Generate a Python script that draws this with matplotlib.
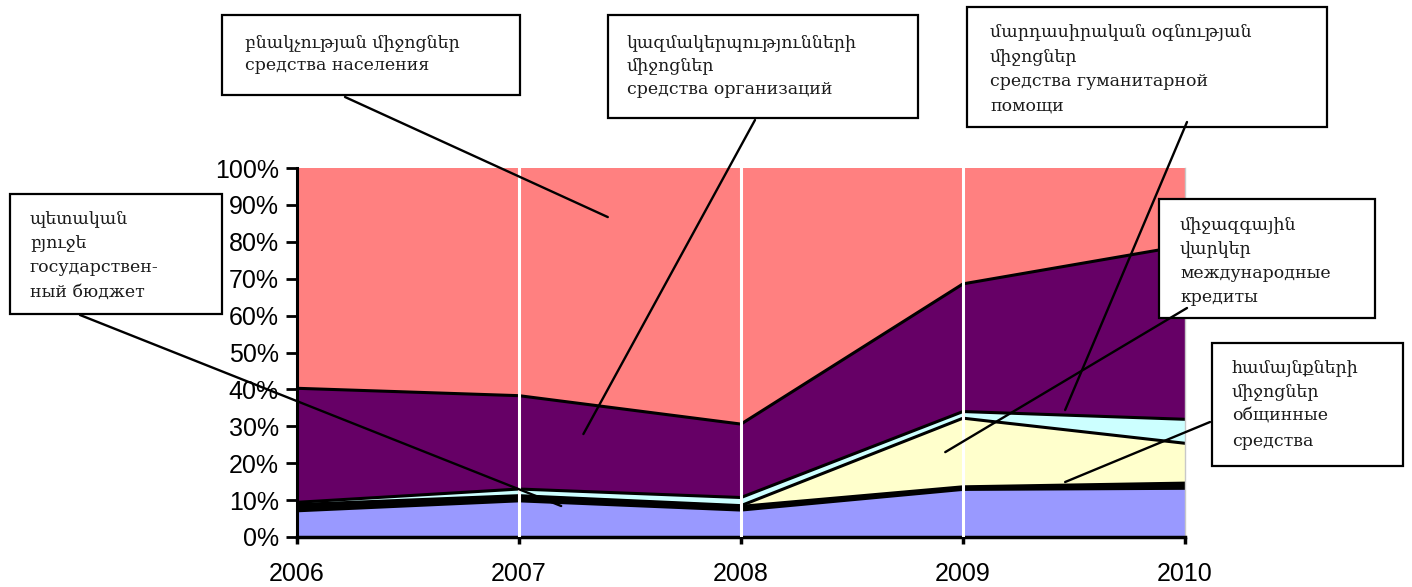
import matplotlib
matplotlib.use("Agg")
import matplotlib.pyplot as plt
import numpy as np
from matplotlib.patches import Rectangle, ConnectionPatch

# data (shares, %)
years = [2006, 2007, 2008, 2009, 2010]
budget = [7.1, 9.8, 7.3, 12.9, 13.2]
communal = [1.4, 1.2, 1.0, 0.7, 1.4]
credits = [0.3, 0.2, 0.2, 18.6, 10.8]
humanitarian = [0.6, 1.8, 2.2, 1.8, 6.5]
organizations = [30.9, 25.3, 19.9, 34.6, 47.1]
population = [100 - sum(v) for v in zip(budget, communal, credits, humanitarian, organizations)]

series = [budget, communal, credits, humanitarian, organizations, population]
colors = ["#9999FF", "#000000", "#FFFFCC", "#CCFFFF", "#660066", "#FF8080"]

W, H = 1412, 587
fig = plt.figure(figsize=(W / 100, H / 100), dpi=100)
fig.patch.set_facecolor("white")

def fx(x):
    return x / W

def fy(y):
    return 1 - y / H

ax = fig.add_axes([fx(297), fy(537), fx(1185) - fx(297), fy(168) - fy(537)])

x = np.array(years)
bottom = np.zeros(len(years))
for vals, c in zip(series, colors):
    top = bottom + np.array(vals)
    ax.fill_between(x, bottom, top, facecolor=c, edgecolor="none", zorder=1)
    if c != "#FF8080":
        ax.plot(x, top, color="black", lw=2.2, zorder=2, solid_joinstyle="miter")
    bottom = top

for yr in years[1:-1]:
    ax.axvline(yr, color="white", lw=2.2, zorder=3)

ax.set_xlim(2006, 2010)
ax.set_ylim(0, 100)
ax.set_xticks(years)
ax.set_xticklabels([str(y) for y in years])
ax.set_yticks(np.arange(0, 101, 10))
ax.set_yticklabels([f"{v}%" for v in range(0, 101, 10)])
for lab in ax.get_xticklabels() + ax.get_yticklabels():
    lab.set_fontfamily("Liberation Sans")
    lab.set_fontsize(18)
ax.tick_params(axis="y", length=8, width=2, pad=5, direction="out")
ax.tick_params(axis="x", length=5, width=2.5, pad=13, direction="out")
ax.spines["top"].set_visible(False)
ax.spines["right"].set_color("#C8C8C8")
ax.spines["right"].set_linewidth(1)
ax.spines["left"].set_linewidth(2.2)
ax.spines["bottom"].set_linewidth(2.5)

serif = ["DejaVu Serif", "DejaVu Sans"]

# callout boxes: (left, top, width, height) in px, text lines, line centres
boxes = [
    ((222, 15, 298, 80), ["բնակչության միջոցներ", "средства населения"], [43, 66], 245),
    ((608, 15, 310, 103), ["կազմակերպությունների", "միջոցներ", "средства организаций"], [43, 66, 90], 627),
    ((967, 7, 360, 120), ["մարդասիրական օգնության", "միջոցներ", "средства гуманитарной", "помощи"],
     [32, 57, 81, 106], 990),
    ((1159, 199, 216, 119), ["միջազգային", "վարկեր", "международные", "кредиты"], [225, 250, 274, 298], 1180),
    ((1212, 343, 191, 123), ["համայնքների", "միջոցներ", "общинные", "средства"], [368, 392, 416, 441], 1232),
    ((10, 194, 212, 120), ["պետական", "բյուջե", "государствен-", "ный бюджет"], [219, 244, 268, 292], 30),
]
for (l, t, w, h), lines, ys, tx in boxes:
    fig.add_artist(Rectangle((fx(l), fy(t + h)), w / W, h / H, transform=fig.transFigure,
                             facecolor="white", edgecolor="black", lw=1.6, zorder=5))
    for s, yy in zip(lines, ys):
        fig.text(fx(tx), fy(yy), s, ha="left", va="center", fontsize=12.5,
                 family=serif, color="#1a1a1a", zorder=6)

# leader lines: start (figure px) -> tip (data)
leaders = [
    ((345, 97), (2007.40, 86.7)),
    ((755, 120), (2007.29, 27.9)),
    ((1187, 122), (2009.46, 34.4)),
    ((1187, 308), (2008.92, 23.0)),
    ((1210, 422), (2009.46, 14.9)),
    ((80, 315), (2007.19, 8.4)),
]
for (sx, sy), tip in leaders:
    con = ConnectionPatch(xyA=(fx(sx), fy(sy)), coordsA=fig.transFigure,
                          xyB=tip, coordsB=ax.transData, color="black", lw=1.7, zorder=7)
    fig.add_artist(con)

fig.savefig("out.png", dpi=100, facecolor="white")
